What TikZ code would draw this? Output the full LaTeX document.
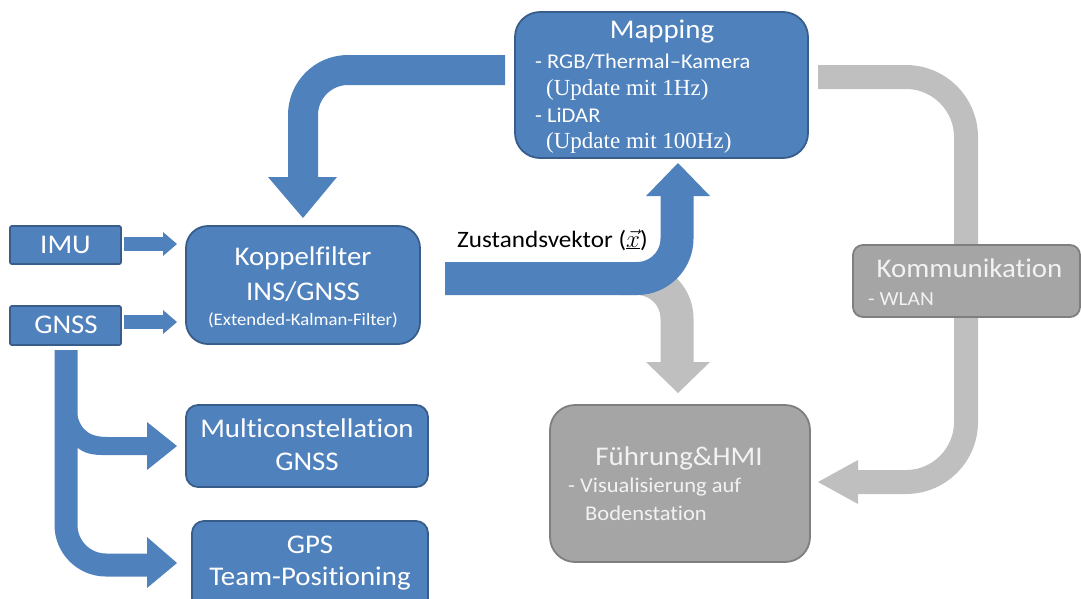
\documentclass[tikz,border=0pt]{standalone}
\usepackage{fontspec}
\setmainfont{Carlito}[FakeStretch=1.07, Ligatures=NoCommon]
\newfontfamily\camb{Liberation Serif}
\definecolor{boxblue}{HTML}{4F81BD}
\definecolor{boxblueedge}{HTML}{385D8A}
\definecolor{boxgray}{HTML}{A5A5A5}
\definecolor{boxgrayedge}{HTML}{7F7F7F}
\definecolor{flowgray}{HTML}{BFBFBF}
\definecolor{lighttext}{HTML}{F2F2F2}

\begin{document}
\begin{tikzpicture}[x=1pt,y=-1pt,
  bluebox/.style={draw=boxblueedge, line width=1.8pt, fill=boxblue, inner sep=0pt},
  graybox/.style={draw=boxgrayedge, line width=1.8pt, fill=boxgray, inner sep=0pt},
  lbl/.style={inner sep=0pt, anchor=base, text=white},
  lblw/.style={lbl, anchor=base west},
  glbl/.style={lbl, text=lighttext},
  glblw/.style={lblw, text=lighttext},
  big/.style={font=\fontsize{27}{30}\selectfont},
  mid/.style={font=\fontsize{21}{24}\selectfont},
  serifline/.style={font=\camb\fontsize{23}{26}\selectfont},
  band/.style={line width=#1, line cap=butt, line join=round}
]
\useasboundingbox (0,0) rectangle (1081,598);
\clip (0,0) rectangle (1081,598);

% ---------- flow bands (grey ones first, blue ones on top) ----------
\coordinate (mapright) at (818,77);
\coordinate (hmiright) at (818,482);
\draw[band=24, flowgray, rounded corners=60] (mapright) -- (966,77) -- (966,482) -- (857,482);
\fill[flowgray] (858,460) -- (hmiright) -- (858,504) -- cycle;

\coordinate (splitdown) at (678,393);
\draw[band=33, flowgray, rounded corners=40] (620,278.5) -- (677,278.5) -- (677,363);
\fill[flowgray] (646,362) -- (710,362) -- (splitdown) -- cycle;

\coordinate (kopright) at (445,278.5);
\coordinate (mapbottom) at (678,163);
\draw[band=33, boxblue, rounded corners=40] (kopright) -- (677,278.5) -- (677,195);
\fill[boxblue] (646,196) -- (710,196) -- (mapbottom) -- cycle;

\coordinate (mapleft) at (505,70);
\coordinate (koptop) at (303,218);
\draw[band=30, boxblue, rounded corners=45] (mapleft) -- (303,70) -- (303,178);
\fill[boxblue] (268,177) -- (337,177) -- (koptop) -- cycle;

% sensor inputs into the coupling filter
\coordinate (imuout) at (124,244);
\coordinate (imuin) at (177,244);
\draw[band=14, boxblue] (imuout) -- (164,244);
\fill[boxblue] (163,232) -- (imuin) -- (163,256) -- cycle;

\coordinate (gnssout) at (124,322);
\coordinate (gnssin) at (177,322);
\draw[band=14, boxblue] (gnssout) -- (164,322);
\fill[boxblue] (163,310) -- (gnssin) -- (163,334) -- cycle;

% GNSS trunk with its two branches
\coordinate (gnssdown) at (66,350);
\coordinate (multiin) at (177,446);
\coordinate (gpsin) at (177,563);
\draw[band=23, boxblue, rounded corners=40] (gnssdown) -- (66,565) -- (149,565);
\fill[boxblue] (147,537) -- (gpsin) -- (147,588) -- cycle;
\fill[boxblue] (75,400) .. controls (77,428) and (86,437) .. (108,437) -- (149,437)
  -- (149,455) -- (102,455) .. controls (88,455) and (80,451) .. (75,445) -- cycle;
\fill[boxblue] (147,422) -- (multiin) -- (147,470) -- cycle;

% ---------- boxes ----------
\node[bluebox, rounded corners=25, minimum width=293pt, minimum height=146pt] (map) at (661.5,85) {};
\node[bluebox, rounded corners=2, minimum width=111pt, minimum height=38pt] (imu) at (65.5,245) {};
\node[bluebox, rounded corners=2, minimum width=111pt, minimum height=39pt] (gnss) at (65.5,325.5) {};
\node[bluebox, rounded corners=22, minimum width=234pt, minimum height=118pt] (kop) at (303,285) {};
\node[bluebox, rounded corners=12, minimum width=242pt, minimum height=82pt] (multi) at (307,446) {};
\node[bluebox, rounded corners=12, minimum width=236pt, minimum height=89pt] (gps) at (310,565.5) {};
\node[graybox, rounded corners=25, minimum width=260pt, minimum height=157pt] (hmi) at (680,483.5) {};
\node[graybox, rounded corners=10, minimum width=227pt, minimum height=72pt] (komm) at (966.5,281) {};

% ---------- texts ----------
\node[lbl, big] (maptitle) at (662,38) {Mapping};
\node[lblw, mid] (mapcam) at (535,68) {- RGB/Thermal–Kamera};
\node[lblw, serifline] (mapcamrate) at (546,95) {(Update mit 1Hz)};
\node[lblw, mid] (maplidar) at (535,122) {- LiDAR};
\node[lblw, serifline] (maplidarrate) at (546,148) {(Update mit 100Hz)};

\node[lbl, big] (imutext) at (65.5,253) {IMU};
\node[lbl, big] (gnsstext) at (66,333) {GNSS};

\node[lbl, big] (koptitle) at (303,265) {Koppelfilter};
\node[lbl, big] (kopsub) at (303,300) {INS/GNSS};
\node[lbl, font=\fontsize{17.5}{20}\selectfont] (kopekf) at (303,325) {(Extended-Kalman-Filter)};

\node[lblw, text=black, font=\fontsize{23.5}{26}\selectfont] (state) at (457,247) {Zustandsvektor (\(\underline{\vec{x}}\))};

\node[lbl, big] (multitext) at (307,437) {Multiconstellation};
\node[lbl, big] (multignss) at (307,470) {GNSS};
\node[lbl, big] (gpstext) at (310,553) {GPS};
\node[lbl, big] (gpsteam) at (310,585) {Team-Positioning};

\node[glbl, big] (hmititle) at (679,465) {Führung\&HMI};
\node[glblw, mid] (hmivis) at (568,492) {- Visualisierung auf};
\node[glblw, mid] (hmibase) at (585,520) {Bodenstation};

\node[glbl, big] (kommtitle) at (969.5,277) {Kommunikation};
\node[glblw, font=\fontsize{20}{22}\selectfont] (kommwlan) at (868,305) {- WLAN};
\end{tikzpicture}
\end{document}
